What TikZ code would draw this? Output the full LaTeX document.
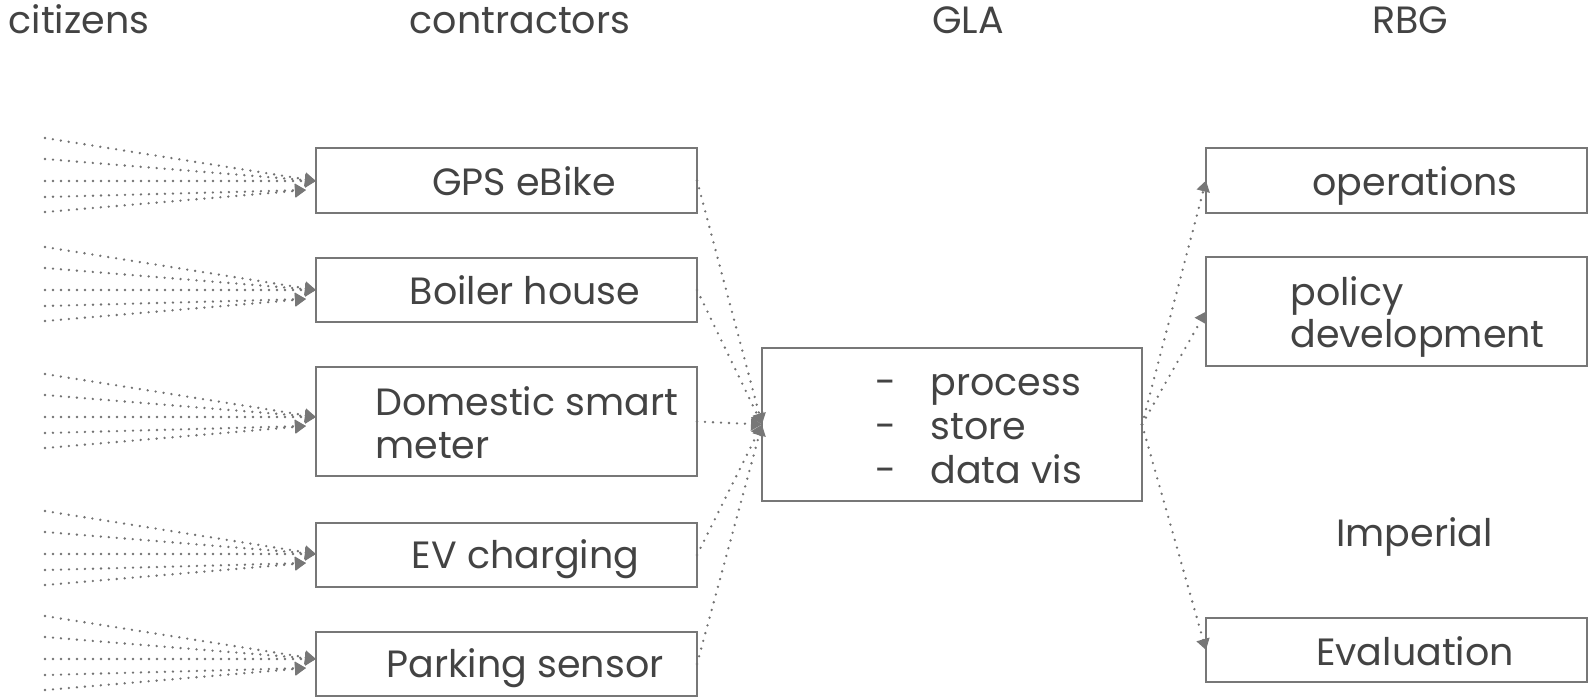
\documentclass[tikz,border=0pt]{standalone}
\usepackage{fontspec}
\setmainfont{Poppins}
\usetikzlibrary{arrows.meta}
\definecolor{ink}{HTML}{434343}
\definecolor{rim}{HTML}{777777}
\definecolor{dots}{HTML}{727272}
\tikzset{
	box/.style={draw=rim,line width=1pt,minimum width=190.5pt,inner sep=0pt,outer sep=0pt},
	txt/.style={text=ink,font=\fontsize{19}{21.5}\selectfont,inner sep=0pt,anchor=base},
	feed/.style={draw=dots,line width=1.3pt,line cap=round,dash pattern=on 0pt off 4pt,
		-{Triangle[length=5.5pt,width=6.5pt,color=rim]}}
}
\begin{document}
\begin{tikzpicture}[x=0.5pt,y=-0.5pt]
	\useasboundingbox (0,0) rectangle (1595,698);

	% column heads
	\foreach \t/\x in {citizens/79,contractors/520,GLA/968,RBG/1410}
		\node[txt] (head-\t) at (\x,33) {\t};

	% contractors
	\node[box,minimum height=32.5pt] (gps) at (506.5,180.5) {};
	\node[box,minimum height=32pt] (boiler) at (506.5,290) {};
	\node[box,minimum height=54.5pt] (meter) at (506.5,421.5) {};
	\node[box,minimum height=32pt] (ev) at (506.5,555) {};
	\node[box,minimum height=32pt] (park) at (506.5,664) {};
	\node[txt] (gps-t) at (524,195) {GPS eBike};
	\node[txt] (boiler-t) at (525,304) {Boiler house};
	\node[txt,anchor=base west,align=left] (meter-t) at (375,458) {Domestic smart\\meter};
	\node[txt] (ev-t) at (525.5,568) {EV charging};
	\node[txt] (park-t) at (525,677) {Parking sensor};

	% GLA
	\node[box,minimum width=190pt,minimum height=76.5pt] (gla) at (952,424.5) {};
	\node[txt,anchor=base west,align=left,font=\fontsize{19}{22}\selectfont] (gla-t) at (875,483)
		{\makebox[27.5pt][l]{-}process\\\makebox[27.5pt][l]{-}store\\\makebox[27.5pt][l]{-}data vis};

	% RBG
	\node[box,minimum height=32.5pt] (ops) at (1396.5,180.5) {};
	\node[box,minimum height=54.5pt] (policy) at (1396.5,311.5) {};
	\node[box,minimum height=32pt] (eval) at (1396.5,650) {};
	\node[txt] (ops-t) at (1415,195) {operations};
	\node[txt,anchor=base west,align=left,font=\fontsize{19}{21}\selectfont] (policy-t) at (1290,347) {policy\\development};
	\node[txt] (imperial) at (1414.5,546) {Imperial};
	\node[txt] (eval-t) at (1415,665) {Evaluation};

	% citizens feeding each contractor
	\foreach \b/\ty in {gps/181,boiler/290,meter/417,ev/554,park/659}{
		\coordinate (\b-in) at (316,\ty);
		\coordinate (\b-low) at (306,\ty+9);
		\foreach \o[count=\i] in {-43,-22,0}{
			\coordinate (\b-c\i) at (45,\ty+\o);
			\draw[feed] (\b-c\i) -- (\b-in);
		}
		\foreach \o[count=\i from 4] in {16,31}{
			\coordinate (\b-c\i) at (45,\ty+\o);
			\draw[feed] (\b-c\i) -- (\b-low);
		}
		\draw[feed] (\b.east) -- (gla.west);
	}

	\foreach \b in {ops,policy,eval}
		\draw[feed] (gla.east) -- (\b.west);
\end{tikzpicture}
\end{document}
